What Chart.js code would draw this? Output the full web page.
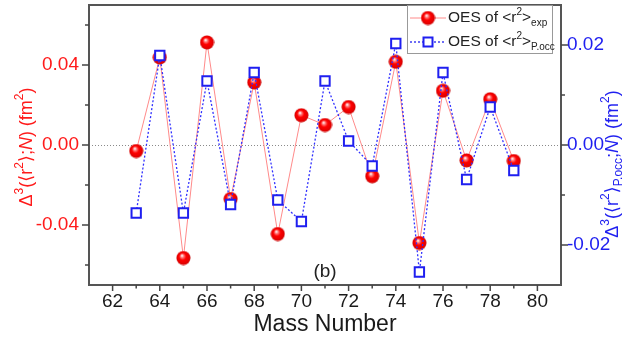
<!DOCTYPE html>
<html><head><meta charset="utf-8">
<style>html,body{margin:0;padding:0;background:#fff;}#wrap{width:625px;height:343px;position:relative;overflow:hidden}</style>
<script src="https://cdn.jsdelivr.net/npm/chart.js@4/dist/chart.umd.min.js"></script>
</head><body><div id="wrap"><canvas id="c" width="625" height="343"></canvas></div>
<script>
// ---- data ----
const massNumbers = [63,64,65,66,67,68,69,70,71,72,73,74,75,76,77,78,79];
const oesExp  = [-0.003,0.0438,-0.0565,0.0513,-0.027,0.0313,-0.0445,0.0149,0.0100,0.0190,-0.0156,0.0416,-0.0490,0.0271,-0.0077,0.0229,-0.0080];
const oesPocc = [-0.0136,0.0179,-0.0136,0.0128,-0.0119,0.0145,-0.0110,-0.0153,0.0128,0.0008,-0.0042,0.0203,-0.0254,0.0145,-0.0069,0.0076,-0.0051];
const xTicks = [62,63,64,65,66,67,68,69,70,71,72,73,74,75,76,77,78,79,80];
const xTickLabels = [62,64,66,68,70,72,74,76,78,80];
const yLeftTicks = [-0.06,-0.04,-0.02,0.00,0.02,0.04,0.06];
const yLeftTickLabels = [-0.04,0.00,0.04];
const yRightTicks = [-0.02,-0.01,0.00,0.01,0.02];
const yRightTickLabels = [-0.02,0.00,0.02];
const legendLabels = ['exp','P.occ'];

const FONT = "'Liberation Sans', Arial, 'DejaVu Sans', sans-serif";
const RED = '#ff1a1a', BLUE = '#1f1ff0';

function near(v, arr){ return arr.some(a => Math.abs(a - v) < 1e-7); }
function fmt(v){ return Math.abs(v) < 1e-9 ? '0.00' : v.toFixed(2); }

// sphere marker
function makeSphere(){
  const c = document.createElement('canvas'); c.width = 15; c.height = 15;
  const g = c.getContext('2d');
  const grd = g.createRadialGradient(6,5,0.3,7.5,7.5,7.5);
  grd.addColorStop(0,'#ffffff');
  grd.addColorStop(0.18,'#ff8080');
  grd.addColorStop(0.45,'#ff0000');
  grd.addColorStop(0.85,'#e00000');
  grd.addColorStop(1,'#b30000');
  g.fillStyle = grd; g.beginPath(); g.arc(7.5,7.5,7,0,Math.PI*2); g.fill();
  return c;
}
const sphere = makeSphere();

function drawRich(ctx, parts, fs, color){
  const pf = p => (p.it ? 'italic ' : '') + (p.sup||p.sub ? Math.round(fs*0.65) : fs) + 'px ' + FONT;
  let w = 0;
  parts.forEach(p => { ctx.font = pf(p); p.w = ctx.measureText(p.t).width; w += p.w; });
  let x = -w/2;
  ctx.fillStyle = color; ctx.textBaseline = 'middle'; ctx.textAlign = 'left';
  parts.forEach(p => {
    ctx.font = pf(p);
    const dy = p.sup ? -fs*0.38 : (p.sub ? fs*0.32 : 0);
    ctx.fillText(p.t, x, dy);
    x += p.w;
  });
  return w;
}

const decor = {
  id: 'decor',
  beforeDatasetsDraw(chart){
    const ctx = chart.ctx, a = chart.chartArea, y = chart.scales.y;
    const y0 = Math.round(y.getPixelForValue(0));
    ctx.save(); ctx.strokeStyle = '#8a8a8a'; ctx.lineWidth = 1; ctx.setLineDash([1,2]);
    ctx.beginPath(); ctx.moveTo(a.left, y0+0.5); ctx.lineTo(a.right, y0+0.5); ctx.stroke(); ctx.restore();
  },
  afterDraw(chart){
    const ctx = chart.ctx, a = chart.chartArea;
    const sx = chart.scales.x, sy = chart.scales.y, sy2 = chart.scales.y2;
    ctx.save();
    // frame
    ctx.strokeStyle = '#555'; ctx.lineWidth = 2;
    ctx.strokeRect(a.left, a.top, a.right - a.left, a.bottom - a.top);
    // ticks + labels
    ctx.lineWidth = 1.5; ctx.strokeStyle = '#444';
    ctx.font = '19px ' + FONT;
    sx.ticks.forEach(t => {
      const px = sx.getPixelForValue(t.value);
      const major = near(t.value, xTickLabels);
      ctx.beginPath(); ctx.moveTo(px, a.bottom); ctx.lineTo(px, a.bottom + (major ? 6 : 3.5)); ctx.stroke();
      if (major) {
        ctx.fillStyle = '#1a1a1a'; ctx.textAlign = 'center'; ctx.textBaseline = 'middle';
        ctx.fillText(String(Math.round(t.value)), px, a.bottom + 17);
      }
    });
    sy.ticks.forEach(t => {
      const py = sy.getPixelForValue(t.value);
      const major = near(t.value, yLeftTickLabels);
      ctx.beginPath(); ctx.moveTo(a.left, py); ctx.lineTo(a.left - (major ? 7 : 4), py); ctx.stroke();
      if (major) {
        ctx.fillStyle = RED; ctx.textAlign = 'right'; ctx.textBaseline = 'middle';
        ctx.fillText(fmt(t.value), a.left - 10, py);
      }
    });
    sy2.ticks.forEach(t => {
      const py = sy2.getPixelForValue(t.value);
      const major = near(t.value, yRightTickLabels);
      ctx.beginPath(); ctx.moveTo(a.right, py); ctx.lineTo(a.right + (major ? 7 : 4), py); ctx.stroke();
      if (major) {
        ctx.fillStyle = BLUE; ctx.textAlign = 'left'; ctx.textBaseline = 'middle';
        ctx.fillText(fmt(t.value), a.right + 6, py);
      }
    });
    // x title
    ctx.fillStyle = '#1a1a1a'; ctx.font = '23px ' + FONT; ctx.textAlign = 'center'; ctx.textBaseline = 'middle';
    ctx.fillText('Mass Number', (a.left + a.right)/2, 325);
    // (b)
    ctx.font = '19px ' + FONT; ctx.fillStyle = '#222';
    ctx.fillText('(b)', sx.getPixelForValue(71), 272);
    // left title
    ctx.save(); ctx.translate(27, 147); ctx.rotate(-Math.PI/2);
    drawRich(ctx, [{t:'Δ'},{t:'3',sup:1},{t:'(⟨r'},{t:'2',sup:1},{t:'⟩;'},{t:'N',it:1},{t:') (fm'},{t:'2',sup:1},{t:')'}], 18, RED);
    ctx.restore();
    // right title
    ctx.save(); ctx.translate(613, 164); ctx.rotate(-Math.PI/2);
    drawRich(ctx, [{t:'Δ'},{t:'3',sup:1},{t:'(⟨r'},{t:'2',sup:1},{t:'⟩'},{t:'P.occ',sub:1},{t:';'},{t:'N',it:1},{t:') (fm'},{t:'2',sup:1},{t:')'}], 18, BLUE);
    ctx.restore();
    // legend
    const lx = 407, ly = a.top, lw = 145, lh = 48;
    ctx.fillStyle = '#fff'; ctx.fillRect(lx, ly, lw, lh);
    ctx.strokeStyle = '#999'; ctx.lineWidth = 1; ctx.strokeRect(lx+0.5, ly+0.5, lw, lh);
    const rows = [ly + 13, ly + 37];
    ctx.strokeStyle = '#ff8a8a'; ctx.lineWidth = 1; ctx.setLineDash([]);
    ctx.beginPath(); ctx.moveTo(410, rows[0]); ctx.lineTo(446, rows[0]); ctx.stroke();
    ctx.drawImage(sphere, 428 - 7.5, rows[0] - 7.5);
    ctx.strokeStyle = BLUE; ctx.lineWidth = 1.3; ctx.setLineDash([2,2]);
    ctx.beginPath(); ctx.moveTo(410, rows[1]); ctx.lineTo(446, rows[1]); ctx.stroke();
    ctx.setLineDash([]); ctx.lineWidth = 2; ctx.fillStyle = '#fff';
    ctx.fillRect(423.5, rows[1]-4.5, 9, 9); ctx.strokeRect(423.5, rows[1]-4.5, 9, 9);
    legendLabels.forEach((lab, i) => {
      const fs = 15.5;
      const parts = [{t:'OES of <r'},{t:'2',sup:1},{t:'>'},{t:lab,sub:1}];
      let w = 0; parts.forEach(p => { ctx.font = (p.sup||p.sub ? Math.round(fs*0.65) : fs) + 'px ' + FONT; w += ctx.measureText(p.t).width; });
      ctx.save(); ctx.translate(448 + w/2, rows[i]);
      drawRich(ctx, parts, fs, '#222');
      ctx.restore();
    });
    ctx.restore();
  }
};

const ctxC = document.getElementById('c').getContext('2d');
new Chart(ctxC, {
  type: 'line',
  data: {
    datasets: [
      {
        label: 'OES of <r2>P.occ',
        data: massNumbers.map((m,i) => ({x:m, y:oesPocc[i]})),
        yAxisID: 'y2',
        order: 0,
        borderColor: '#3030ff', borderWidth: 1.3, borderDash: [2,2],
        pointStyle: 'rect', pointRadius: 6.6, pointBorderWidth: 2,
        pointBorderColor: BLUE, pointBackgroundColor: '#fff',
        tension: 0, fill: false
      },
      {
        label: 'OES of <r2>exp',
        data: massNumbers.map((m,i) => ({x:m, y:oesExp[i]})),
        yAxisID: 'y',
        order: 1,
        borderColor: '#ff8a8a', borderWidth: 1,
        pointStyle: sphere, pointRadius: 7,
        tension: 0, fill: false
      }
    ]
  },
  options: {
    responsive: false, animation: false, devicePixelRatio: 1,
    layout: { autoPadding: false, padding: { top: 5, left: 0, right: 0, bottom: 0 } },
    plugins: { legend: { display: false }, tooltip: { enabled: false } },
    scales: {
      x: {
        type: 'linear', min: 61, max: 81,
        grid: { display: false }, border: { display: false },
        ticks: { display: false },
        afterBuildTicks: s => { s.ticks = xTicks.map(v => ({value: v})); },
        afterFit: s => { s.height = 58; s.paddingLeft = 0; s.paddingRight = 0; }
      },
      y: {
        position: 'left', min: -0.07, max: 0.07,
        grid: { display: false }, border: { display: false },
        ticks: { display: false },
        afterBuildTicks: s => { s.ticks = yLeftTicks.map(v => ({value: v})); },
        afterFit: s => { s.width = 89; s.paddingTop = 0; s.paddingBottom = 0; }
      },
      y2: {
        position: 'right', min: -0.028, max: 0.028,
        grid: { display: false }, border: { display: false },
        ticks: { display: false },
        afterBuildTicks: s => { s.ticks = yRightTicks.map(v => ({value: v})); },
        afterFit: s => { s.width = 64; s.paddingTop = 0; s.paddingBottom = 0; }
      }
    }
  },
  plugins: [decor]
});
</script>
</body></html>
